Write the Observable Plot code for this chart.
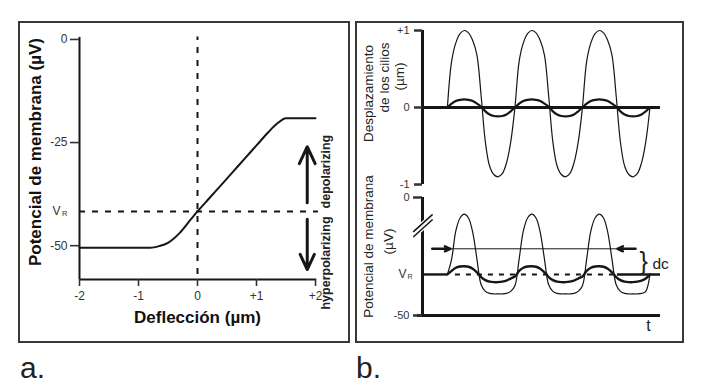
<!DOCTYPE html>
<html><head><meta charset="utf-8">
<script src="https://cdn.jsdelivr.net/npm/d3@7"></script>
<script src="https://cdn.jsdelivr.net/npm/@observablehq/plot@0.6"></script>
<style>
body{margin:0;background:#fff;}
#fig{position:relative;width:707px;height:389px;overflow:hidden;background:#fff;font-family:"Liberation Sans",Arial,sans-serif;}
.box{position:absolute;border:2px solid #3a3a34;box-sizing:border-box;}
.lab{position:absolute;font-size:30px;line-height:30px;color:#222;}
#fig svg{position:absolute;left:0;top:0;}
</style></head><body>
<div id="fig">
 <div class="box" style="left:18px;top:21px;width:332px;height:322px"></div>
 <div class="box" style="left:355px;top:21px;width:329px;height:322px"></div>
 <div class="lab" style="left:20px;top:353px">a.</div>
 <div class="lab" style="left:356px;top:353px">b.</div>
</div>
<script>
// ---------- Panel a data ----------
const deflection = [-2, -0.8, -0.65, -0.5, -0.3, -0.1, 0, 0.2, 0.4, 0.6, 0.8, 1.0, 1.2, 1.35, 1.5, 2];
const potentialA = [-50.5, -50.5, -50.1, -49.3, -46.9, -43.4, -41.7, -38.5, -35.3, -32.1, -28.9, -25.7, -22.5, -20.4, -19.1, -19.1];
const VR_A = -41.7;
const ticksYA = [0, -25, -50];
const ticksXA = [-2, -1, 0, 1, 2];
const arrowsA = [{x: 1.86, y1: -39.6, y2: -26.0}, {x: 1.86, y1: -43.6, y2: -55.8}];

// ---------- Panel b data ----------
const tIdx = [0,1,2,3,4,5,6,7,8,9,10,11,12,13,14,15,16,17,18,19,20,21,22,23,24,25,26,27,28,29,30,31,32,33,34,35,36,37,38,39,40,41,42,43,44,45,46,47,48];
const ciliaLarge = [
  0, 0.6, 0.84, 0.96, 1.0, 0.97, 0.87, 0.68, 0.15, -0.45, -0.76, -0.87, -0.9, -0.86, -0.72, -0.45,
  0, 0.6, 0.84, 0.96, 1.0, 0.97, 0.87, 0.68, 0.15, -0.45, -0.76, -0.87, -0.9, -0.86, -0.72, -0.45,
  0, 0.6, 0.84, 0.96, 1.0, 0.97, 0.87, 0.68, 0.15, -0.45, -0.76, -0.87, -0.9, -0.86, -0.72, -0.45,
  0];
const ciliaSmall = [
  0, 0.05, 0.085, 0.1, 0.105, 0.1, 0.085, 0.05, 0.01, -0.05, -0.09, -0.11, -0.115, -0.11, -0.09, -0.05,
  0, 0.05, 0.085, 0.1, 0.105, 0.1, 0.085, 0.05, 0.01, -0.05, -0.09, -0.11, -0.115, -0.11, -0.09, -0.05,
  0, 0.05, 0.085, 0.1, 0.105, 0.1, 0.085, 0.05, 0.01, -0.05, -0.09, -0.11, -0.115, -0.11, -0.09, -0.05,
  0];
const memLarge = [
  -42, -39, -33.5, -31, -30.25, -31, -33.8, -39, -44, -45.3, -45.7, -45.8, -45.8, -45.8, -45.7, -45.3,
  -44.2, -39, -33.5, -31, -30.25, -31, -33.8, -39, -44, -45.3, -45.7, -45.8, -45.8, -45.8, -45.7, -45.3,
  -44.2, -39, -33.5, -31, -30.25, -31, -33.8, -39, -44, -45.3, -45.7, -45.8, -45.8, -45.8, -45.7, -45.3,
  -42];
const memSmall = [
  -42, -41.3, -40.7, -40.45, -40.4, -40.5, -40.9, -41.6, -42.5, -43.1, -43.4, -43.5, -43.5, -43.4, -43.2, -42.8,
  -42.4, -41.3, -40.7, -40.45, -40.4, -40.5, -40.9, -41.6, -42.5, -43.1, -43.4, -43.5, -43.5, -43.4, -43.2, -42.8,
  -42.4, -41.3, -40.7, -40.45, -40.4, -40.5, -40.9, -41.6, -42.5, -43.1, -43.4, -43.5, -43.5, -43.4, -43.2, -42.8,
  -42];
const VR_B = -42;
const dcLevel = -37;
const ticksTop = [1, 0, -1];
const ticksBottom = [-27, -50];   // -27 is the "0" above the axis break
const tStart = -5.9, tEnd = 50.5, tAxisStart = -7.1;
const dcSpan = [-3.6, 44.6], dcTips = [0.7, 40.3];
const vrDash = [1.9, 39.5], vrSolidEnd = 40.3;

const FONT = "Liberation Sans, Arial, sans-serif";
const INK = "#161616";
const fig = document.getElementById("fig");

// ---------- Panel a ----------
const curveA = deflection.map((x, i) => ({x, y: potentialA[i]}));
const plotA = Plot.plot({
  width: 350, height: 345,
  marginLeft: 79, marginRight: 35, marginTop: 34, marginBottom: 66,
  x: {domain: [-2, 2], label: null},
  y: {domain: [-58.2, 1.2], label: null},
  style: {background: "transparent", overflow: "visible", fontFamily: FONT},
  marks: [
    Plot.ruleY([VR_A], {x1: -2, x2: 2.05, stroke: INK, strokeWidth: 2, strokeDasharray: "6,7"}),
    Plot.ruleX([0], {y1: -57, y2: 0.6, stroke: INK, strokeWidth: 2, strokeDasharray: "6,7"}),
    Plot.line(curveA, {x: "x", y: "y", curve: "monotone-x", stroke: INK, strokeWidth: 2}),
    Plot.ruleX([-2], {y1: -58.2, y2: 0.5, stroke: INK, strokeWidth: 2}),
    Plot.ruleY([-58.2], {x1: -2, x2: 2.02, stroke: INK, strokeWidth: 2}),
    Plot.axisY(ticksYA, {anchor: "left", tickSize: 9, tickPadding: 3, fontSize: 12, color: "#333", strokeWidth: 1.6, tickFormat: d => String(d), label: null}),
    Plot.axisX(ticksXA, {anchor: "bottom", tickSize: 7, tickPadding: 5, fontSize: 12, color: "#333", strokeWidth: 1.6, tickFormat: d => d > 0 ? "+" + d : String(d), label: null}),
    Plot.text(["V"], {x: -2, y: VR_A, text: d => d, dx: -19, textAnchor: "end", fontSize: 12, fill: "#333"}),
    Plot.text(["R"], {x: -2, y: VR_A, text: d => d, dx: -12, dy: 2, textAnchor: "end", fontSize: 7.5, fill: "#333"}),
    Plot.arrow(arrowsA, {x1: "x", x2: "x", y1: "y1", y2: "y2", stroke: INK, strokeWidth: 3, headLength: 10, headAngle: 50}),
    Plot.text(["depolarizing"], {x: 2.17, y: VR_A, text: d => d, rotate: -90, textAnchor: "start", dy: -3, fontSize: 12.5, fontWeight: "bold", fill: "#222"}),
    Plot.text(["hyperpolarizing"], {x: 2.17, y: VR_A, text: d => d, rotate: -90, textAnchor: "end", dy: 5, fontSize: 12.5, fontWeight: "bold", fill: "#222"}),
    Plot.text(["Potencial de membrana (µV)"], {frameAnchor: "left", text: d => d, rotate: -90, textAnchor: "middle", dx: -44, dy: -5, fontSize: 17, fontWeight: "bold", fill: "#111"}),
    Plot.text(["Deflección (µm)"], {frameAnchor: "bottom", text: d => d, textAnchor: "middle", dy: 43, fontSize: 17, fontWeight: "bold", fill: "#111"})
  ]
});
fig.appendChild(plotA);

// ---------- Panel b, top ----------
const rowsTop = tIdx.flatMap((t, i) => [{t, v: ciliaLarge[i], s: "large"}, {t, v: ciliaSmall[i], s: "small"}]);
const plotBTop = Plot.plot({
  width: 707, height: 200,
  marginLeft: 422, marginRight: 47, marginTop: 30, marginBottom: 16,
  x: {domain: [tStart, tEnd], label: null, axis: null},
  y: {domain: [-1, 1], label: null},
  style: {background: "transparent", overflow: "visible", fontFamily: FONT},
  marks: [
    Plot.line(rowsTop.filter(d => d.s === "large"), {x: "t", y: "v", curve: "catmull-rom", stroke: INK, strokeWidth: 1.2}),
    Plot.ruleY([0], {x1: tStart, x2: tEnd, stroke: INK, strokeWidth: 3}),
    Plot.line(rowsTop.filter(d => d.s === "small"), {x: "t", y: "v", curve: "catmull-rom", stroke: INK, strokeWidth: 2.2}),
    Plot.ruleX([tStart], {y1: -1, y2: 1, stroke: INK, strokeWidth: 3}),
    Plot.axisY(ticksTop, {anchor: "left", tickSize: 8, tickPadding: 5, fontSize: 11, color: "#333", strokeWidth: 2.5, tickFormat: d => d > 0 ? "+" + d : String(d), label: null}),
    Plot.text(["Desplazamiento"], {frameAnchor: "left", text: d => d, rotate: -90, textAnchor: "middle", dx: -54, dy: -14, fontSize: 13.5, fill: "#222"}),
    Plot.text(["de los cilios"], {frameAnchor: "left", text: d => d, rotate: -90, textAnchor: "middle", dx: -38, dy: -30, fontSize: 13.5, fill: "#222"}),
    Plot.text(["(µm)"], {frameAnchor: "left", text: d => d, rotate: -90, textAnchor: "middle", dx: -23, dy: -31, fontSize: 13.5, fill: "#222"})
  ]
});
fig.appendChild(plotBTop);

// ---------- Panel b, bottom ----------
const rowsBot = tIdx.flatMap((t, i) => [{t, v: memLarge[i], s: "large"}, {t, v: memSmall[i], s: "small"}]);
const breakMarks = [{y: -33.0}, {y: -32.0}];
const plotBBot = Plot.plot({
  width: 707, height: 389,
  marginLeft: 422, marginRight: 47, marginTop: 197, marginBottom: 74,
  x: {domain: [tStart, tEnd], label: null, axis: null},
  y: {domain: [-50, -27], label: null},
  style: {background: "transparent", overflow: "visible", fontFamily: FONT},
  marks: [
    Plot.ruleY([VR_B], {x1: vrDash[0], x2: vrDash[1], stroke: INK, strokeWidth: 2, strokeDasharray: "5,6"}),
    Plot.ruleY([VR_B], {x1: tStart, x2: 0, stroke: INK, strokeWidth: 2.4}),
    Plot.ruleY([VR_B], {x1: vrSolidEnd, x2: tEnd, stroke: INK, strokeWidth: 2.4}),
    Plot.line(rowsBot.filter(d => d.s === "large"), {x: "t", y: "v", curve: "catmull-rom", stroke: INK, strokeWidth: 1.2}),
    Plot.line(rowsBot.filter(d => d.s === "small"), {x: "t", y: "v", curve: "catmull-rom", stroke: INK, strokeWidth: 2.4}),
    Plot.ruleY([dcLevel], {x1: dcSpan[0], x2: dcSpan[1], stroke: INK, strokeWidth: 1}),
    Plot.arrow([{a: dcSpan[0], b: dcTips[0]}, {a: dcSpan[1], b: dcTips[1]}], {x1: "a", x2: "b", y1: dcLevel, y2: dcLevel, stroke: INK, strokeWidth: 2.4, headLength: 9, headAngle: 50}),
    Plot.text(["}"], {x: 46.5, y: (dcLevel + VR_B) / 2, text: d => d, fontSize: 25, fill: "#222"}),
    Plot.text(["dc"], {x: 48.6, y: -39.9, text: d => d, textAnchor: "start", fontSize: 15.5, fill: "#222"}),
    Plot.ruleX([tStart], {y1: -50, y2: -27, stroke: INK, strokeWidth: 3}),
    Plot.ruleY([-50], {x1: tAxisStart, x2: tEnd, stroke: INK, strokeWidth: 3}),
    Plot.link(breakMarks, {x1: tStart - 2.2, x2: tStart + 2.4, y1: d => d.y - 1.7, y2: d => d.y + 1.7, stroke: "#fff", strokeWidth: 4}),
    Plot.link(breakMarks, {x1: tStart - 2.2, x2: tStart + 2.4, y1: d => d.y - 1.7, y2: d => d.y + 1.7, stroke: INK, strokeWidth: 1.5}),
    Plot.axisY(ticksBottom, {anchor: "left", tickSize: 9, tickPadding: 4, fontSize: 11, color: "#333", strokeWidth: 2.5, tickFormat: d => d === -27 ? "0" : String(d), label: null}),
    Plot.text(["V"], {x: tStart, y: VR_B, text: d => d, dx: -16, textAnchor: "end", fontSize: 12, fill: "#333"}),
    Plot.text(["R"], {x: tStart, y: VR_B, text: d => d, dx: -10, dy: 2, textAnchor: "end", fontSize: 7, fill: "#333"}),
    Plot.text(["Potencial de membrana"], {frameAnchor: "left", text: d => d, rotate: -90, textAnchor: "middle", dx: -54, dy: -10, fontSize: 13.5, fill: "#222"}),
    Plot.text(["(µV)"], {frameAnchor: "left", text: d => d, rotate: -90, textAnchor: "middle", dx: -34, dy: -15, fontSize: 13.5, fill: "#222"}),
    Plot.text(["t"], {frameAnchor: "bottom-right", text: d => d, textAnchor: "middle", dx: -12, dy: 15, fontSize: 16, fill: "#222"})
  ]
});
fig.appendChild(plotBBot);
</script>
</body></html>
